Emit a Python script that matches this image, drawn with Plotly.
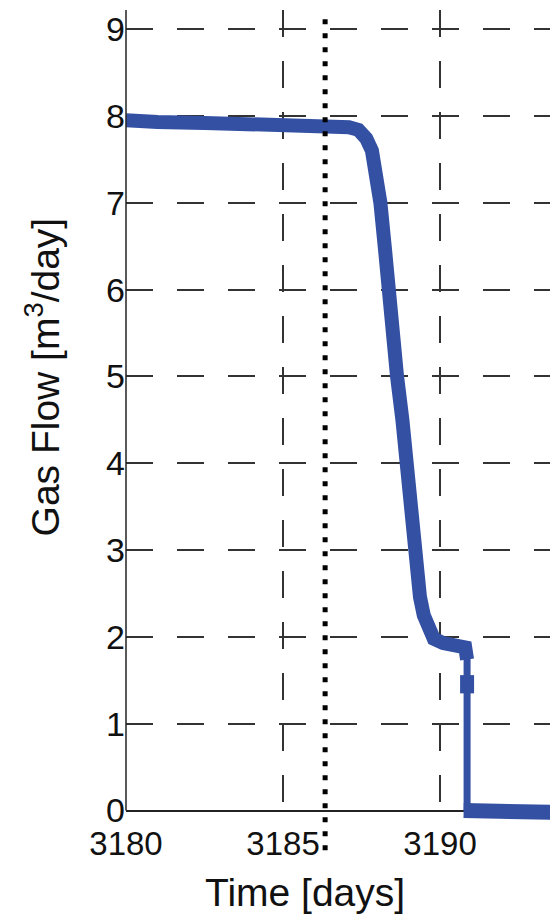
import plotly.graph_objects as go

# Gas flow record around the shut-in event
time_main = [3180.0, 3180.3, 3181.0, 3182.5, 3184.0, 3185.5, 3186.6, 3187.1, 3187.4,
             3187.65, 3187.83, 3188.0, 3188.1, 3188.25, 3188.34, 3188.47, 3188.63,
             3188.8, 3188.95, 3189.05, 3189.14, 3189.25, 3189.36, 3189.48, 3189.59,
             3189.8, 3190.1, 3190.4, 3190.64, 3190.8, 3190.86, None, 3190.86, 3190.86]
flow_main = [7.95, 7.94, 7.93, 7.92, 7.91, 7.90, 7.88, 7.87, 7.84,
             7.74, 7.6, 7.3, 7.0, 6.45, 6.0, 5.5, 5.0,
             4.5, 4.0, 3.5, 3.0, 2.75, 2.46, 2.25, 2.12,
             1.98, 1.93, 1.91, 1.89, 1.88, 1.74, None, 1.35, 1.56]

time_drop = [3190.86, 3190.86]
flow_drop = [1.75, 0.0]

time_after = [3190.75, 3191.5, 3192.5, 3193.6]
flow_after = [0.0, 0.0, 0.0, -0.02]

event_time = 3186.34

x_range = [3180, 3193.5]
y_range = [-0.12, 9.22]
x_ticks = [3180, 3185, 3190]
y_ticks = [0, 1, 2, 3, 4, 5, 6, 7, 8, 9]

x_title = "Time [days]"
y_title = "Gas Flow [m<sup>3</sup>/day]"

blue = "#3350A3"
font_family = "Liberation Sans, Arial, sans-serif"

fig = go.Figure()
fig.add_trace(go.Scatter(x=time_main, y=flow_main, mode="lines",
                         line=dict(color=blue, width=14), connectgaps=False,
                         hoverinfo="skip"))
fig.add_trace(go.Scatter(x=time_drop, y=flow_drop, mode="lines",
                         line=dict(color=blue, width=7), hoverinfo="skip"))
fig.add_trace(go.Scatter(x=time_after, y=flow_after, mode="lines",
                         line=dict(color=blue, width=15), hoverinfo="skip"))

# vertical event marker (dotted)
fig.add_shape(type="line", xref="x", yref="paper", x0=event_time, x1=event_time,
              y0=-0.036, y1=0.995, line=dict(color="black", width=5, dash="5px,9px"))
# left axis line from 0 to the top
fig.add_shape(type="line", xref="paper", yref="y", x0=0, x1=0, y0=0, y1=y_range[1],
              line=dict(color="#222", width=1.5), layer="above")

# axis titles placed as annotations
fig.add_annotation(text=x_title, xref="paper", yref="paper", x=0.422, y=-0.088,
                   xanchor="center", yanchor="middle", showarrow=False,
                   font=dict(size=39, family=font_family, color="#111"))
fig.add_annotation(text=y_title, xref="paper", yref="paper", x=-0.198, y=0.547,
                   xanchor="center", yanchor="middle", showarrow=False, textangle=-90,
                   font=dict(size=39, family=font_family, color="#111"))

fig.update_layout(
    width=550, height=916,
    margin=dict(l=126, r=0, t=10, b=95),
    paper_bgcolor="white", plot_bgcolor="white",
    showlegend=False,
    font=dict(family=font_family, color="#111", size=34),
)
fig.update_xaxes(
    range=x_range, tickvals=x_ticks, ticktext=[str(v) for v in x_ticks],
    showline=False, zeroline=False, ticks="",
    showgrid=True, gridcolor="#333", gridwidth=1.5, griddash="27px,24px",
    tickfont=dict(size=33),
)
fig.update_yaxes(
    range=y_range, tickvals=y_ticks, ticktext=[str(v) for v in y_ticks],
    showline=False, ticks="",
    zeroline=True, zerolinecolor="#222", zerolinewidth=1.5,
    showgrid=True, gridcolor="#333", gridwidth=1.5, griddash="27px,24px",
    tickfont=dict(size=34),
)

fig.write_html("out.html")
